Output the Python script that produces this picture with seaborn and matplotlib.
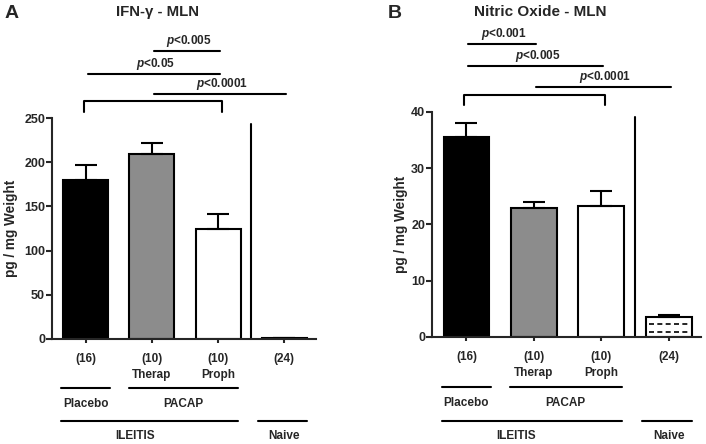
import matplotlib
matplotlib.use("Agg")
import matplotlib.pyplot as plt
import matplotlib.transforms as mtransforms
import seaborn as sns
import numpy as np

# data
groups = ["Placebo", "Therap", "Proph", "Naive"]
tick_labels = ["(16)", "(10)\nTherap", "(10)\nProph", "(24)"]
ifn_mean = [180, 209, 124, 0.8]
ifn_err = [17, 13, 17, 0]
no_mean = [35.6, 23.0, 23.3, 3.5]
no_err = [2.5, 1.0, 2.6, 0.4]
bar_colors = ["#000000", "#8c8c8c", "#ffffff", "#ffffff"]

ifn_sig = [("p<0.005", 1, 2), ("p<0.05", 0, 2), ("p<0.0001", 1, 3)]
no_sig = [("p<0.001", 0, 1), ("p<0.005", 0, 2), ("p<0.0001", 1, 3)]

sns.set_style("ticks")
plt.rcParams["font.family"] = ["Liberation Sans", "DejaVu Sans"]
plt.rcParams["font.weight"] = "bold"
plt.rcParams["mathtext.fontset"] = "custom"
plt.rcParams["mathtext.it"] = "Liberation Sans:italic:bold"
plt.rcParams["mathtext.rm"] = "Liberation Sans:bold"

FS = 8.5
LW = 1.5


def draw_panel(ax, means, errs, yticks, sig, sig_heights, bracket_y, sep_top, hatch_naive=False):
    sns.barplot(x=groups, y=means, hue=groups, palette=bar_colors, legend=False,
                width=0.68, edgecolor="black", linewidth=LW, saturation=1, ax=ax)
    ax.errorbar(range(len(groups)), means, yerr=[np.zeros(len(errs)), errs],
                fmt="none", ecolor="black", elinewidth=LW, capsize=8, capthick=LW, zorder=1)

    ax.set_ylim(0, yticks[-1])
    ax.set_xlim(-0.51, 3.48)
    ax.set_yticks(yticks)
    ax.set_xticks(range(len(groups)))
    ax.set_xticklabels(tick_labels, fontsize=FS, fontweight="bold", linespacing=1.45)
    ax.tick_params(axis="y", labelsize=9, length=4, width=LW, pad=1)
    ax.tick_params(axis="x", length=3, width=LW, pad=7)
    for lab in ax.get_yticklabels():
        lab.set_fontweight("bold")
    ax.set_xlabel("")
    ax.set_ylabel("pg / mg Weight", fontsize=9.8, fontweight="bold")
    sns.despine(ax=ax)
    for s in ["left", "bottom"]:
        ax.spines[s].set_linewidth(LW)

    if hatch_naive:
        bar = ax.containers[3][0]
        x0, w, h = bar.get_x(), bar.get_width(), bar.get_height()
        for f in [0.27, 0.68]:
            ax.plot([x0 + 0.08 * w, x0 + 0.92 * w], [f * h, f * h], color="black",
                    lw=1.2, ls=(0, (3, 2)), zorder=5)

    # separator between ileitis and naive
    ax.plot([2.5, 2.5], [0, sep_top], color="black", lw=LW, clip_on=False)

    # significance lines
    for (txt, a, b), y in zip(sig, sig_heights):
        ax.plot([a + 0.03, b + 0.03], [y, y], color="black", lw=LW, clip_on=False)
        ax.annotate(txt.replace("p", "$p$", 1), xy=((a + b) / 2 + 0.06, y), xytext=(0, 1.5),
                    textcoords="offset points", ha="center", va="bottom",
                    fontsize=FS, fontweight="bold", annotation_clip=False)
    by, bt = bracket_y
    ax.plot([-0.03, -0.03, 2.06, 2.06], [bt, by, by, bt], color="black", lw=LW, clip_on=False)

    # group labels below axis
    tr = mtransforms.blended_transform_factory(ax.transData, ax.transAxes)
    for x0, x1, y in [(-0.37, 0.37, -0.222), (0.65, 2.3, -0.222), (-0.37, 2.3, -0.372), (2.6, 3.35, -0.372)]:
        ax.plot([x0, x1], [y, y], color="black", lw=LW, transform=tr, clip_on=False)
    for x, y, txt in [(0, -0.295, "Placebo"), (1.47, -0.295, "PACAP"),
                      (0.74, -0.44, "ILEITIS"), (3.0, -0.44, "Naive")]:
        ax.text(x, y, txt, transform=tr, ha="center", va="center", fontsize=FS, fontweight="bold")


fig = plt.figure(figsize=(7.06, 4.44), dpi=100)
ax1 = fig.add_axes([0.0737, 0.2365, 0.374, 0.4977])
ax2 = fig.add_axes([0.612, 0.241, 0.381, 0.5068])

draw_panel(ax1, ifn_mean, ifn_err, [0, 50, 100, 150, 200, 250], ifn_sig,
           [326, 300, 277], (269, 257), 243)
draw_panel(ax2, no_mean, no_err, [0, 10, 20, 30, 40], no_sig,
           [52.1, 48.2, 44.4], (43.0, 41.2), 39.1, hatch_naive=True)

ax1.yaxis.set_label_coords(-0.129, 0.5)
ax2.yaxis.set_label_coords(-0.088, 0.5)

fig.text(5 / 706, 1 - 14 / 444, "A", fontsize=14, fontweight="bold", va="center", ha="left")
fig.text(388 / 706, 1 - 14 / 444, "B", fontsize=14, fontweight="bold", va="center", ha="left")
fig.text(158 / 706, 1 - 12 / 444, "IFN-γ - MLN", fontsize=10.8, fontweight="bold", va="center", ha="center")
fig.text(540 / 706, 1 - 12 / 444, "Nitric Oxide - MLN", fontsize=11, fontweight="bold", va="center", ha="center")

fig.savefig("out.png", dpi=100)
